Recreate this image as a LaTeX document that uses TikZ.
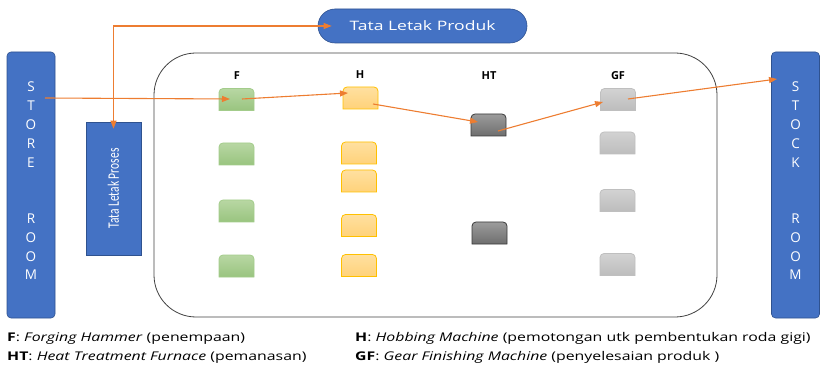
\documentclass[tikz,border=0pt]{standalone}
\usepackage{fontspec}
\setmainfont{Open Sans}
\newfontfamily\narrowfont{Carlito}
\usetikzlibrary{arrows.meta,calc,shapes.misc}
\definecolor{bluefill}{HTML}{4472C4}
\definecolor{blueline}{HTML}{2F528F}
\definecolor{orangeline}{HTML}{ED7D31}
\definecolor{gtop}{HTML}{B8D7A3}
\definecolor{gbot}{HTML}{99C47F}
\definecolor{gline}{HTML}{A3CC8B}
\definecolor{ytop}{HTML}{FFE0A0}
\definecolor{ybot}{HTML}{FFD27A}
\definecolor{yline}{HTML}{FFC000}
\definecolor{dtop}{HTML}{9C9C9C}
\definecolor{dbot}{HTML}{6E6E6E}
\definecolor{dline}{HTML}{3A3A3A}
\definecolor{ltop}{HTML}{D2D2D2}
\definecolor{lbot}{HTML}{BDBDBD}
\definecolor{lline}{HTML}{BFBFBF}
\tikzset{
  mnode/.style={minimum width=35pt,minimum height=22pt,inner sep=0pt,outer sep=0pt},
  greenm/.style={draw=gline,top color=gtop,bottom color=gbot,line width=0.8pt},
  yellowm/.style={draw=yline,top color=ytop,bottom color=ybot,line width=0.8pt},
  darkm/.style={draw=dline,top color=dtop,bottom color=dbot,line width=0.8pt},
  lightm/.style={draw=lline,top color=ltop,bottom color=lbot,line width=0.8pt},
  room/.style={draw=blueline,fill=bluefill,rounded corners=4pt,line width=0.6pt,
    minimum width=48pt,minimum height=266pt,inner sep=0pt},
  roomtext/.style={text=white,align=center,font=\fontsize{13.5}{18.8}\selectfont,inner sep=0pt},
  flow/.style={draw=orangeline,line width=1.1pt,-{Triangle[length=8pt,width=6pt]}},
  colhdr/.style={font=\fontsize{11}{12}\selectfont\bfseries,inner sep=0pt},
  legend/.style={font=\fontsize{12}{14}\selectfont,anchor=base west,inner sep=0pt},
}
\newcommand\machine[4]{%
  \node[mnode] (#1) at (#2,#3) {};
  \draw[#4] (#1.south west) [rounded corners=4pt] -- (#1.north west) -- (#1.north east) [sharp corners] -- (#1.south east) -- cycle;
}
\newcommand\wide[1]{\scalebox{1.32}[1]{#1}}
\begin{document}
\begin{tikzpicture}[x=1pt,y=-1pt]
\useasboundingbox (0,0) rectangle (826,371);
% rooms
\node[room] (store) at (31,185) {};
\node[roomtext] (storetxt) at (31,181) {S\\T\\O\\R\\E\\[37.6pt]R\\O\\O\\M};
\node[room] (stock) at (795.5,185) {};
\node[roomtext] (stocktxt) at (795.5,181) {S\\T\\O\\C\\K\\[37.6pt]R\\O\\O\\M};
% big area
\draw[draw=black!75,line width=0.8pt,rounded corners=42pt] (154,53) rectangle (717,317);
% layout boxes
\node[draw=blueline,fill=bluefill,line width=0.6pt,minimum width=55pt,minimum height=133pt,inner sep=0pt] (proses) at (113.5,188.5)
  {\rotatebox{90}{\textcolor{white}{\scalebox{0.72}[1]{\narrowfont\fontsize{16}{18}\selectfont Tata Letak Proses}}}};
\node[draw=blueline,fill=bluefill,line width=0.6pt,rounded rectangle,minimum width=209pt,minimum height=34pt,inner sep=0pt,
  text=white,font=\fontsize{13}{14}\selectfont] (produk) at (422.5,26) {\scalebox{1.35}[1]{Tata Letak Produk}};
% column headers
\node[colhdr] (hF) at (237,76) {F};
\node[colhdr] (hH) at (360,75) {H};
\node[colhdr] (hHT) at (489,76) {HT};
\node[colhdr] (hGF) at (618,76) {GF};
% machines
\machine{F1}{236.5}{99.5}{greenm}
\machine{F2}{236.5}{154}{greenm}
\machine{F3}{236.5}{211}{greenm}
\machine{F4}{236.5}{266}{greenm}
\machine{H1}{360.5}{98}{yellowm}
\machine{H2}{359}{153}{yellowm}
\machine{H3}{359}{181}{yellowm}
\machine{H4}{359}{225.5}{yellowm}
\machine{H5}{359}{265.5}{yellowm}
\machine{HT1}{488.5}{125}{darkm}
\machine{HT2}{489.5}{233}{darkm}
\machine{GF1}{618}{99.5}{lightm}
\machine{GF2}{617.5}{143}{lightm}
\machine{GF3}{617.5}{200.5}{lightm}
\machine{GF4}{617.5}{264.5}{lightm}
% flow
\draw[flow] ($(store)+(14,-87)$) -- ($(F1)+(-6.5,-0.5)$);
\draw[flow] ($(F1)+(5.5,-0.5)$) -- ($(H1)+(-12.5,-5)$);
\draw[flow] ($(H1)+(12.5,6)$) -- ($(HT1)+(-10.5,-3)$);
\draw[flow] ($(HT1)+(9.5,6)$) -- ($(GF1)+(-15,2.5)$);
\draw[flow] ($(GF1)+(10,-0.5)$) -- ($(stock)+(-18.5,-106)$);
\draw[flow,{Triangle[length=8pt,width=6pt]}-{Triangle[length=8pt,width=6pt]}] ($(proses.north)+(0,7)$) |- ($(produk.west)+(14,0)$);
% legend
\node[legend] (lg1) at (7,341) {\wide{\textbf{F}: \textit{Forging Hammer} (penempaan)}};
\node[legend] (lg2) at (7,360) {\wide{\textbf{HT}: \textit{Heat Treatment Furnace} (pemanasan)}};
\node[legend] (lg3) at (355,341) {\wide{\textbf{H}: \textit{Hobbing Machine} (pemotongan utk pembentukan roda gigi)}};
\node[legend] (lg4) at (355,360) {\wide{\textbf{GF}: \textit{Gear Finishing Machine} (penyelesaian produk )}};
\end{tikzpicture}
\end{document}
